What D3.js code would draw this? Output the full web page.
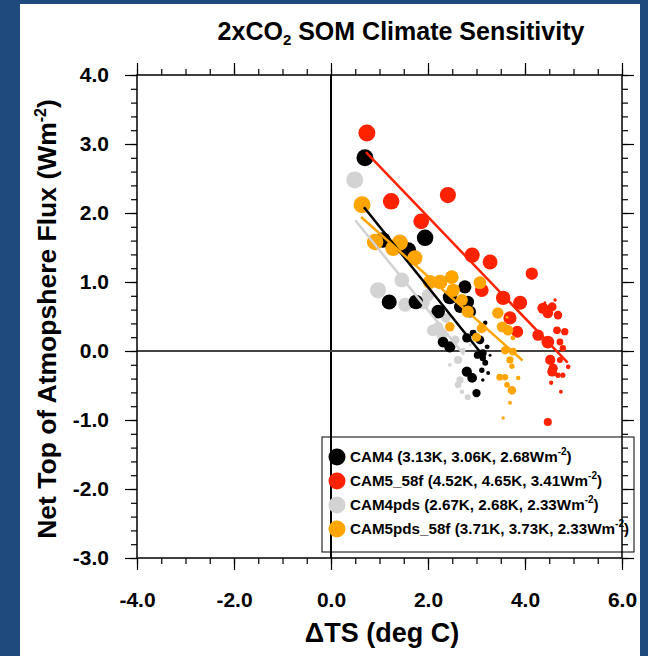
<!DOCTYPE html>
<html lang="en">
<head>
    <meta charset="UTF-8">
    <title>2xCO2 SOM Climate Sensitivity</title>
    <script src="https://d3js.org/d3.v7.min.js"></script>
    <style>
        body { margin: 0; }
        text {
            font-family: "Liberation Sans", Arial, sans-serif;
            font-weight: bold;
            fill: black;
        }
        .axis line { stroke: #000; stroke-width: 1.2px; }
        .axis path { display: none; }
        .axis text { font-size: 21px; font-family: "Liberation Sans", Arial, sans-serif; font-weight: bold; }
    </style>
</head>
<body>
    <svg width="648" height="656"></svg>
    <script>
        // series names, colours, legend numbers
        var series = ["CAM4", "CAM5_58f", "CAM4pds", "CAM5pds_58f"];
        var colors = ["#000000", "#ff2200", "#d3d3d3", "#ffa500"];
        var legendNums = ["3.13K, 3.06K, 2.68Wm", "4.52K, 4.65K, 3.41Wm", "2.67K, 2.68K, 2.33Wm", "3.71K, 3.73K, 2.33Wm"];

        // regression fits: forcing (Wm-2), equilibrium dTS (K), x range of fit
        var fitForcing = [2.68, 3.41, 2.33, 2.33];
        var fitEcs = [3.06, 4.65, 2.68, 3.73];
        var fitXStart = [0.68, 0.72, 0.50, 0.62];
        var fitXEnd = [3.10, 4.88, 2.74, 3.95];

        // annual points [dTS, netTOA], in time order (early years first)
        var cam4 = [[0.70, 2.80], [1.94, 1.64], [1.59, 1.46], [1.07, 1.61], [1.20, 0.71], [1.75, 0.71],
            [2.45, 0.78], [2.21, 0.57], [2.76, 0.93], [2.82, 0.71], [2.66, 0.64], [2.87, 0.57],
            [2.45, 0.06], [2.31, 0.13], [2.80, -0.30], [2.91, -0.39], [2.80, 0.19], [3.07, 0.16],
            [3.00, -0.61], [3.13, -0.03], [3.02, -0.06], [2.93, 0.26], [3.13, -0.10], [3.18, -0.17],
            [3.11, -0.28], [3.22, 0.06], [3.18, 0.41], [3.24, -0.32], [3.13, -0.42], [3.28, -0.06]];
        var cam5 = [[0.74, 3.16], [1.24, 2.17], [2.41, 2.26], [1.86, 1.88], [2.91, 1.39], [3.28, 1.29],
            [3.55, 0.77], [3.90, 0.70], [3.11, 0.88], [3.69, 0.48], [4.47, 0.13], [4.14, 1.12],
            [3.84, 0.28], [4.27, 0.23], [4.37, 0.62], [4.47, 0.55], [4.52, -0.13], [4.56, -0.30],
            [4.58, -0.25], [4.56, 0.64], [4.68, 0.52], [4.47, -1.03], [4.66, 0.30], [4.82, 0.28],
            [4.72, 0.13], [4.78, 0.04], [4.72, -0.13], [4.68, -0.35], [4.78, -0.35], [4.89, -0.23],
            [4.54, -0.46], [4.74, -0.59], [4.62, 0.74], [4.41, 0.70]];
        var cam4pds = [[0.49, 2.48], [0.97, 0.88], [1.42, 1.58], [1.46, 1.03], [1.53, 0.67], [1.90, 0.70],
            [2.00, 0.81], [2.10, 0.30], [2.29, 0.23], [2.21, 0.35], [2.37, 0.48], [2.56, 0.16],
            [2.62, -0.13], [2.66, -0.42], [2.62, -0.49], [2.82, -0.67], [2.72, 0.01], [2.70, -0.59],
            [2.45, -0.20], [2.87, 0.09]];
        var cam5pds = [[0.64, 2.12], [0.91, 1.58], [1.42, 1.57], [1.28, 1.49], [1.73, 1.35], [2.25, 1.00],
            [2.04, 1.00], [2.49, 1.07], [2.52, 0.88], [3.07, 0.99], [2.82, 0.57], [2.70, 0.74],
            [3.44, 0.55], [3.53, 0.35], [3.65, 0.30], [3.11, 0.33], [2.45, 0.35], [3.00, 0.20],
            [3.73, -0.57], [3.59, 0.01], [3.75, -0.01], [3.69, -0.13], [3.48, -0.38], [3.59, -0.38],
            [3.63, -0.49], [3.73, -0.22], [3.75, 0.19], [3.86, -0.39], [3.69, -0.75], [3.55, -0.97],
            [3.63, 0.49]];
        var allPoints = [cam4, cam5, cam4pds, cam5pds];

        var xTicks = [-4, -2, 0, 2, 4, 6];
        var yTicks = [-3, -2, -1, 0, 1, 2, 3, 4];

        var svg = d3.select("svg");

        // blue frame around the figure
        svg.append("rect").attr("width", 648).attr("height", 656).attr("fill", "#1f4a7e");
        svg.append("rect").attr("x", 20).attr("y", 4).attr("width", 620).attr("height", 652).attr("fill", "#fff");

        var x = d3.scaleLinear().domain([-4, 6]).range([137, 622]);
        var y = d3.scaleLinear().domain([-3, 4]).range([558, 75]);
        var fmt = function(d) { return d.toFixed(1); };

        // axes (outward ticks)
        svg.append("g").attr("class", "axis").attr("transform", "translate(0,558)")
            .call(d3.axisBottom(x).tickValues(d3.range(-4, 6.01, 0.5)).tickSize(6).tickFormat(""));
        svg.append("g").attr("class", "axis").attr("transform", "translate(0,558)")
            .call(d3.axisBottom(x).tickValues(xTicks).tickSize(12).tickPadding(22).tickFormat(fmt));
        svg.append("g").attr("class", "axis").attr("transform", "translate(0,75)")
            .call(d3.axisTop(x).tickValues(d3.range(-4, 6.01, 0.5)).tickSize(6).tickFormat(""));
        svg.append("g").attr("class", "axis").attr("transform", "translate(0,75)")
            .call(d3.axisTop(x).tickValues(xTicks).tickSize(12).tickFormat(""));

        svg.append("g").attr("class", "axis").attr("transform", "translate(137,0)")
            .call(d3.axisLeft(y).tickValues(d3.range(-3, 4.01, 0.2)).tickSize(6).tickFormat(""));
        svg.append("g").attr("class", "axis").attr("transform", "translate(137,0)")
            .call(d3.axisLeft(y).tickValues(yTicks).tickSize(12).tickPadding(16).tickFormat(fmt));
        svg.append("g").attr("class", "axis").attr("transform", "translate(622,0)")
            .call(d3.axisRight(y).tickValues(d3.range(-3, 4.01, 0.2)).tickSize(6).tickFormat(""));
        svg.append("g").attr("class", "axis").attr("transform", "translate(622,0)")
            .call(d3.axisRight(y).tickValues(yTicks).tickSize(12).tickFormat(""));

        // zero lines
        svg.append("line").attr("x1", x(0)).attr("x2", x(0)).attr("y1", y(4)).attr("y2", y(-3))
            .attr("stroke", "#000").attr("stroke-width", 2);
        svg.append("line").attr("x1", x(-4)).attr("x2", x(6)).attr("y1", y(0)).attr("y2", y(0))
            .attr("stroke", "#444").attr("stroke-width", 2);

        // points (draw order gray, black, red, orange)
        var radius = function(n) { return d3.scaleLinear().domain([0, n - 1]).range([8.5, 1.5]); };
        [2, 0, 1, 3].forEach(function(s) {
            var r = radius(allPoints[s].length);
            svg.append("g").selectAll("circle")
                .data(allPoints[s])
                .enter().append("circle")
                .attr("cx", function(d) { return x(d[0]); })
                .attr("cy", function(d) { return y(d[1]); })
                .attr("r", function(d, i) { return r(i); })
                .attr("fill", colors[s]);
        });

        // regression lines
        [2, 0, 3, 1].forEach(function(s) {
            var lam = fitForcing[s] / fitEcs[s];
            svg.append("line")
                .attr("x1", x(fitXStart[s])).attr("y1", y(fitForcing[s] - lam * fitXStart[s]))
                .attr("x2", x(fitXEnd[s])).attr("y2", y(fitForcing[s] - lam * fitXEnd[s]))
                .attr("stroke", colors[s]).attr("stroke-width", 2.5);
        });

        // frame
        svg.append("rect").attr("x", 137).attr("y", 75).attr("width", 485).attr("height", 483)
            .attr("fill", "none").attr("stroke", "#000").attr("stroke-width", 1.5);

        // legend
        var leg = svg.append("g");
        leg.append("rect").attr("x", 322).attr("y", 437).attr("width", 312).attr("height", 115)
            .attr("fill", "none").attr("stroke", "#000").attr("stroke-width", 1);
        series.forEach(function(name, i) {
            var ly = 457 + i * 24;
            leg.append("circle").attr("cx", 337).attr("cy", ly).attr("r", 8.5).attr("fill", colors[i]);
            var t = leg.append("text").attr("x", 350).attr("y", ly + 5).style("font-size", "15.2px");
            t.append("tspan").text(name + " (" + legendNums[i]);
            t.append("tspan").attr("dy", -7).style("font-size", "10px").text("-2");
            t.append("tspan").attr("dy", 7).text(")");
        });

        // title
        var title = svg.append("text").attr("x", 401).attr("y", 40).attr("text-anchor", "middle")
            .style("font-size", "25px");
        title.append("tspan").text("2xCO");
        title.append("tspan").attr("dy", 5).style("font-size", "15px").text("2");
        title.append("tspan").attr("dy", -5).text(" SOM Climate Sensitivity");

        // axis labels
        svg.append("text").attr("x", 382).attr("y", 642).attr("text-anchor", "middle")
            .style("font-size", "27px").text("\u0394TS (deg C)");
        var yl = svg.append("text").attr("transform", "translate(56,319) rotate(-90)")
            .attr("text-anchor", "middle").style("font-size", "26.5px");
        yl.append("tspan").text("Net Top of Atmopshere Flux (Wm");
        yl.append("tspan").attr("dy", -10).style("font-size", "16px").text("-2");
        yl.append("tspan").attr("dy", 10).text(")");
    </script>
</body>
</html>
